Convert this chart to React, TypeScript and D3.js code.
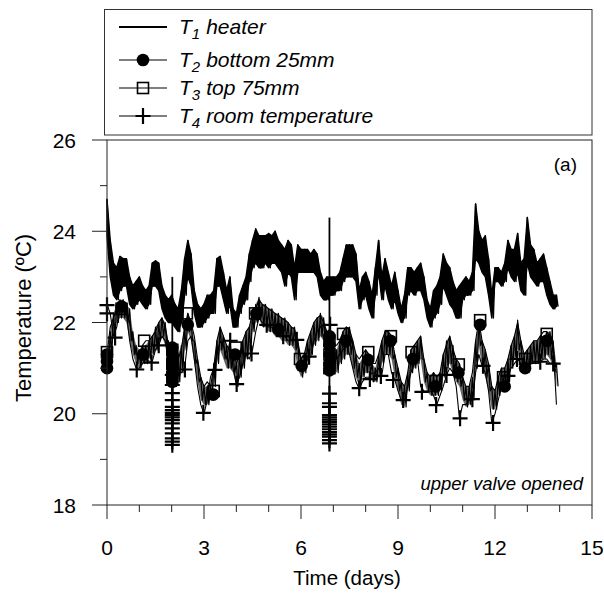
import React from "react";
import * as d3 from "d3";

// Sampling step of the logged series (days)
const STEP = 0.1;

// T1 heater: upper / lower envelope of the readings within each 0.1-day interval
const t1High = [
  24.7, 23.8, 23.3, 23.2, 23.45, 23.4, 23.4, 23.0, 22.8, 22.9,
  23.0, 22.8, 22.7, 22.8, 23.3, 23.35, 23.3, 22.8, 22.6, 22.5,
  22.6, 22.4, 22.3, 22.7, 23.4, 23.8, 23.5, 22.7, 22.4, 22.3,
  22.4, 22.6, 22.6, 22.7, 23.4, 23.45, 23.1, 22.7, 23.0, 22.3,
  22.2, 22.6, 22.8, 23.0, 23.5, 23.8, 24.05, 23.9, 23.9, 23.9,
  23.95, 23.9, 24.0, 23.8, 23.7, 23.6, 23.8, 23.7, 23.2, 23.7,
  23.6, 23.6, 23.6, 23.5, 23.6, 23.5, 23.1, 22.9, 23.0, 23.0,
  23.0, 23.0, 23.1, 23.4, 23.7, 23.7, 23.7, 23.5, 22.7, 23.0,
  23.1, 22.9, 22.6, 23.2, 23.8, 23.0, 23.4, 23.1, 22.8, 23.1,
  22.7, 22.3, 22.6, 23.2, 23.2, 23.1, 23.2, 23.3, 23.0, 22.5,
  22.3, 22.7, 22.8, 23.0, 23.5, 23.3, 23.2, 22.9, 22.7, 22.8,
  22.9, 23.0, 22.9, 23.1, 24.6, 24.0, 23.8, 23.9, 23.4, 22.6,
  23.2, 23.2, 23.1, 23.3, 23.8, 23.6, 23.6, 23.95, 23.3, 23.4,
  24.3, 23.7, 23.6, 23.3, 23.4, 23.5, 23.2, 22.9, 22.6, 22.6,
];
const t1Low = [
  23.9, 23.0, 22.6, 22.5, 22.7, 22.8, 22.8, 22.4, 22.3, 22.4,
  22.5, 22.4, 22.3, 22.4, 22.8, 22.8, 22.7, 22.3, 22.1, 22.0,
  22.0, 21.9, 21.8, 22.0, 22.6, 23.0, 22.8, 22.2, 21.9, 21.9,
  22.0, 22.1, 22.2, 22.2, 22.8, 22.8, 22.5, 22.2, 22.4, 21.9,
  21.9, 22.2, 22.4, 22.5, 22.9, 23.2, 23.3, 23.2, 23.2, 23.3,
  23.2, 23.3, 23.3, 23.2, 23.1, 22.8, 23.1, 23.0, 22.5, 23.1,
  23.1, 23.1, 23.1, 23.1, 23.1, 23.0, 22.6, 22.5, 22.5, 22.6,
  22.6, 22.7, 22.7, 22.9, 23.0, 23.0, 23.0, 22.9, 22.3, 22.5,
  22.6, 22.3, 22.1, 22.6, 23.1, 22.5, 22.8, 22.5, 22.3, 22.5,
  22.2, 22.0, 22.1, 22.6, 22.7, 22.6, 22.7, 22.7, 22.5, 22.1,
  21.9, 22.1, 22.2, 22.4, 22.8, 22.6, 22.4, 22.3, 22.1, 22.1,
  22.5, 22.6, 22.6, 22.7, 23.4, 23.3, 23.1, 23.0, 22.6, 22.1,
  22.9, 22.9, 22.8, 22.9, 23.2, 23.0, 22.9, 23.1, 22.7, 22.6,
  23.3, 23.0, 22.9, 22.8, 22.9, 22.9, 22.6, 22.4, 22.3, 22.35,
];

// T2 bottom 25 mm: envelope per interval
const t2High = [
  21.3, 21.8, 22.2, 22.4, 22.5, 22.5, 22.4, 22.3, 21.8, 21.5,
  21.4, 21.5, 21.5, 21.6, 21.7, 21.9, 22.0, 22.1, 22.0, 21.6,
  21.5, 21.3, 21.3, 21.5, 21.9, 22.2, 22.0, 21.6, 21.2, 20.8,
  20.6, 20.6, 20.6, 21.1, 21.6, 21.9, 21.7, 21.5, 21.4, 21.3,
  21.1, 21.3, 21.6, 21.8, 21.9, 22.2, 22.4, 22.55, 22.4, 22.4,
  22.3, 22.3, 22.2, 22.2, 22.1, 22.1, 22.0, 21.9, 21.9, 21.6,
  21.2, 21.3, 21.6, 21.8, 22.0, 22.1, 22.2, 22.1, 21.8, 21.6,
  21.5, 21.4, 21.6, 21.8, 21.9, 21.9, 21.6, 21.3, 21.1, 21.2,
  21.4, 21.3, 21.1, 21.0, 21.3, 21.6, 21.8, 21.8, 21.7, 21.3,
  21.0, 20.7, 20.6, 20.9, 21.4, 21.5, 21.6, 21.7, 21.2, 20.9,
  20.8, 20.9, 20.8, 20.9, 21.3, 21.6, 21.7, 21.5, 21.2, 21.1,
  20.8, 20.6, 20.6, 20.8, 21.6, 22.0, 21.6, 21.4, 21.1, 20.6,
  20.5, 20.8, 21.0, 21.0, 21.2, 21.5, 21.7, 22.05, 21.6, 21.3,
  21.4, 21.5, 21.6, 21.6, 21.7, 21.7, 21.8, 21.8, 21.6, 21.1,
];
const t2Low = [
  21.0, 21.3, 21.7, 22.0, 22.1, 22.1, 22.0, 21.6, 21.3, 21.1,
  21.0, 21.1, 21.1, 21.2, 21.3, 21.4, 21.6, 21.7, 21.5, 21.1,
  20.7, 20.6, 20.7, 20.9, 21.4, 21.8, 21.6, 21.1, 20.7, 20.3,
  20.2, 20.2, 20.3, 20.6, 21.1, 21.4, 21.2, 21.0, 21.0, 20.9,
  20.6, 20.8, 21.0, 21.2, 21.3, 21.8, 22.0, 22.1, 21.9, 21.9,
  21.8, 21.8, 21.7, 21.7, 21.6, 21.6, 21.5, 21.5, 21.4, 21.0,
  20.8, 20.9, 21.1, 21.3, 21.5, 21.6, 21.7, 21.6, 21.3, 21.0,
  21.0, 20.9, 21.1, 21.2, 21.3, 21.3, 21.0, 20.8, 20.6, 20.8,
  20.9, 20.9, 20.7, 20.7, 20.8, 21.1, 21.3, 21.3, 21.2, 20.8,
  20.5, 20.2, 20.15, 20.5, 20.9, 21.0, 21.1, 21.2, 20.7, 20.5,
  20.4, 20.4, 20.4, 20.5, 20.8, 21.0, 21.1, 20.9, 20.7, 20.6,
  20.3, 20.15, 20.2, 20.3, 21.0, 21.5, 21.0, 20.8, 20.5, 20.1,
  20.1, 20.4, 20.5, 20.5, 20.7, 21.0, 21.2, 21.4, 21.0, 20.9,
  20.9, 21.1, 21.1, 21.1, 21.2, 21.2, 21.3, 21.2, 21.0, 20.6,
];

// T3 top 75 mm
const t3Values = [
  21.3, 21.9, 22.1, 22.3, 22.4, 22.4, 22.3, 22.0, 21.6, 21.3,
  21.3, 21.5, 21.6, 21.6, 21.7, 21.8, 22.0, 22.1, 21.9, 21.5,
  21.2, 21.1, 21.2, 21.4, 21.9, 22.2, 22.0, 21.7, 21.2, 20.8,
  20.6, 20.7, 20.6, 21.0, 21.6, 21.9, 21.7, 21.5, 21.4, 21.4,
  21.1, 21.3, 21.6, 21.8, 21.9, 22.2, 22.3, 22.5, 22.4, 22.35,
  22.3, 22.25, 22.2, 22.15, 22.1, 22.05, 22.0, 21.9, 21.85, 21.5,
  21.2, 21.3, 21.6, 21.8, 22.0, 22.1, 22.15, 22.0, 21.8, 21.6,
  21.5, 21.5, 21.6, 21.8, 21.9, 21.85, 21.6, 21.3, 21.2, 21.3,
  21.4, 21.3, 21.1, 21.1, 21.3, 21.6, 21.8, 21.8, 21.7, 21.3,
  21.0, 20.7, 20.6, 20.9, 21.4, 21.5, 21.6, 21.7, 21.2, 20.9,
  20.8, 20.9, 20.8, 20.9, 21.3, 21.5, 21.7, 21.4, 21.2, 21.1,
  20.8, 20.6, 20.6, 20.9, 21.6, 22.05, 21.6, 21.4, 21.1, 20.6,
  20.5, 20.8, 21.0, 21.0, 21.2, 21.5, 21.7, 22.0, 21.6, 21.3,
  21.4, 21.5, 21.6, 21.6, 21.7, 21.8, 21.8, 21.7, 21.5, 20.2,
];

// T4 room temperature
const t4Values = [
  22.4, 22.2, 21.7, 21.9, 22.3, 22.4, 22.2, 21.6, 21.2, 21.0,
  21.0, 21.1, 21.2, 21.15, 21.15, 21.4, 21.5, 21.7, 21.6, 21.2,
  20.9, 20.8, 20.9, 20.9, 21.0, 21.6, 21.7, 21.2, 20.6, 20.2,
  20.0, 20.3, 20.8, 21.0, 21.3, 21.6, 21.5, 21.2, 21.6, 21.0,
  20.65, 20.8, 21.1, 21.3, 21.2, 21.4, 21.8, 22.1, 22.0, 21.95,
  21.9, 21.9, 21.8, 21.8, 21.7, 21.7, 21.6, 21.6, 21.6, 21.6,
  21.2, 21.0, 21.2, 21.25, 21.6, 21.8, 21.9, 21.95, 21.7, 21.9,
  21.2, 21.2, 21.3, 21.4, 21.5, 21.3, 21.0, 20.7, 20.55, 20.7,
  20.8, 20.8, 20.9, 20.9, 21.0, 20.85, 21.3, 21.3, 20.9, 20.75,
  20.5, 20.3, 20.3, 20.6, 20.9, 21.1, 21.2, 20.6, 20.5, 20.5,
  20.5, 20.4, 20.2, 20.4, 20.6, 20.85, 21.0, 20.9, 20.6, 19.9,
  20.2, 20.2, 20.3, 20.32, 20.9, 21.3, 21.05, 20.9, 20.5, 19.8,
  20.0, 20.3, 20.6, 20.85, 20.85, 21.0, 21.1, 21.2, 21.1, 21.0,
  21.0, 21.1, 21.1, 21.1, 21.14, 21.2, 21.2, 21.1, 21.1, 20.9,
];

// Symbol positions (day, value) for each probe
const t2Marks: [number, number][] = [
  [0, 21.3], [0, 21.15], [0, 21.0], [0.45, 22.35], [1.12, 21.3], [2.5, 21.95],
  [3.29, 20.42], [3.96, 21.3], [4.62, 22.2], [5.3, 21.85], [6.02, 21.05],
  [7.39, 21.6], [8.08, 21.18], [8.77, 21.6], [9.46, 21.2], [10.16, 20.6],
  [10.87, 20.9], [11.54, 21.95], [12.3, 20.6], [12.93, 21.0], [13.6, 21.6],
];
const t3Marks: [number, number][] = [
  [0, 21.35], [0.45, 22.3], [1.15, 21.6], [2.47, 22.2], [3.3, 20.5], [3.98, 21.45],
  [4.58, 22.2], [5.97, 21.2], [7.3, 21.75], [8.08, 21.35], [8.78, 21.7],
  [9.42, 21.35], [10.17, 20.72], [10.88, 21.08], [11.54, 22.05], [12.25, 20.8],
  [12.93, 21.2], [13.6, 21.75],
];
const t4Marks: [number, number][] = [
  [0, 22.38], [0, 22.2], [0.25, 21.67], [0.92, 20.97], [1.38, 21.12], [1.6, 21.5],
  [2.41, 20.97], [2.98, 20.02], [3.34, 20.96], [3.81, 21.6], [4.01, 20.65],
  [4.47, 21.32], [4.94, 21.95], [5.45, 21.7], [5.87, 21.62], [6.25, 21.25],
  [6.9, 21.95], [7.8, 20.56], [8.13, 20.76], [8.47, 20.83], [8.85, 20.74],
  [9.16, 20.3], [9.74, 20.48], [10.18, 20.19], [10.5, 20.85], [10.92, 19.9],
  [11.3, 20.32], [11.63, 21.05], [11.94, 19.8], [12.4, 20.83], [12.68, 21.2],
  [13.4, 21.14], [13.8, 21.1],
];

// Dense logging bursts (many readings at one time)
const burstDays = [2.02, 6.88];
const burstPeak = [23.0, 24.3];
const t2Burst = [
  [21.45, 21.3, 21.15, 21.0, 20.85, 20.7],
  [21.7, 21.5, 21.3, 21.1, 20.95],
];
const t3Burst = [
  [21.4, 21.1, 20.8],
  [21.6, 21.3, 21.0],
];
const t4Burst = [
  [20.85, 20.63, 20.45, 20.3, 20.15, 20.08, 20.02, 19.97, 19.92, 19.86, 19.79, 19.68, 19.57, 19.46, 19.39, 19.32],
  [20.44, 20.23, 20.15, 19.97, 19.92, 19.87, 19.82, 19.77, 19.72, 19.66, 19.6, 19.55, 19.5, 19.42, 19.35],
];

const xTicks = [0, 3, 6, 9, 12, 15];
const xMinor = d3.range(0, 16);
const yTicks = [18, 20, 22, 24, 26];
const yMinor = [19, 21, 23, 25];

const FONT = "'Liberation Sans', Arial, Helvetica, sans-serif";

const x = d3.scaleLinear().domain([0, 15]).range([107, 592]);
const y = d3.scaleLinear().domain([18, 26]).range([505, 140]);

const line = d3
  .line<[number, number]>()
  .x((d) => x(d[0]))
  .y((d) => y(d[1]));

// Alternate between the high and low reading of each interval
function envelopeTrace(high: number[], low: number[]): [number, number][] {
  const pts: [number, number][] = [];
  high.forEach((h, i) => {
    pts.push([i * STEP, h]);
    pts.push([i * STEP + STEP / 2, low[i]]);
  });
  return pts;
}

// Filled band between the high and low reading of each interval
function envelopeArea(high: number[], low: number[]): string {
  const a = d3
    .area<number>()
    .x((_, i) => x(i * STEP))
    .y1((d) => y(d))
    .y0((_, i) => y(low[i]));
  return a(high) ?? "";
}

function seriesTrace(vals: number[]): [number, number][] {
  return vals.map((v, i) => [i * STEP, v]);
}

const CROSS = "M-7.5,0H7.5M0,-8V8";

function Circle({ cx, cy }: { cx: number; cy: number }) {
  return <circle cx={cx} cy={cy} r={6.3} fill="#000" />;
}
function Square({ cx, cy }: { cx: number; cy: number }) {
  return <rect x={cx - 5.5} y={cy - 5.5} width={11} height={11} fill="none" stroke="#000" strokeWidth={1.6} />;
}
function Cross({ cx, cy }: { cx: number; cy: number }) {
  return <path d={CROSS} transform={`translate(${cx},${cy})`} stroke="#000" strokeWidth={2.2} fill="none" />;
}

const legendRows = [
  { sub: "1", label: "heater", y: 27 },
  { sub: "2", label: "bottom 25mm", y: 60 },
  { sub: "3", label: "top 75mm", y: 88 },
  { sub: "4", label: "room temperature", y: 116 },
];

export default function App() {
  const t1 = envelopeTrace(t1High, t1Low);
  const t2 = envelopeTrace(t2High, t2Low);
  const t3 = seriesTrace(t3Values);
  const t4 = seriesTrace(t4Values);

  return (
    <svg
      width={604}
      height={597}
      style={{ position: "absolute", left: 0, top: 0, background: "#fff" }}
      fontFamily={FONT}
    >
      <rect width={604} height={597} fill="#fff" />

      {/* legend */}
      <rect x={104.5} y={9.5} width={487.5} height={125.5} fill="#fff" stroke="#333" strokeWidth={1} />
      {legendRows.map((r, i) => (
        <g key={i}>
          <line x1={119} x2={167} y1={r.y} y2={r.y} stroke="#000" strokeWidth={i === 0 ? 2 : 1.2} />
          {i === 1 && <Circle cx={143} cy={r.y} />}
          {i === 2 && <Square cx={143} cy={r.y} />}
          {i === 3 && <Cross cx={143} cy={r.y} />}
          <text x={179} y={r.y + 7} fontSize={21} fontStyle="italic" fill="#000">
            T
            <tspan fontSize={15} dy={5}>{r.sub}</tspan>
            <tspan dy={-5} dx={6}>{r.label}</tspan>
          </text>
        </g>
      ))}

      {/* series */}
      <g fill="none" stroke="#000" strokeLinejoin="round">
        <path d={line(t4) ?? ""} strokeWidth={1.1} />
        <path d={line(t3) ?? ""} strokeWidth={1.1} />
        <path d={envelopeArea(t2High, t2Low)} fill="#000" fillOpacity={0.6} stroke="none" />
        <path d={line(t2) ?? ""} strokeWidth={1.2} />
        <path d={envelopeArea(t1High, t1Low)} fill="#000" stroke="#000" strokeWidth={1.4} />
        <path d={line(t1) ?? ""} strokeWidth={1.4} />
        {burstDays.map((d, i) => (
          <line
            key={i}
            x1={x(d)}
            x2={x(d)}
            y1={y(burstPeak[i])}
            y2={y(d3.min(t4Burst[i])!)}
            strokeWidth={1.8}
          />
        ))}
      </g>

      {t4Marks.map(([d, v], i) => <Cross key={`c${i}`} cx={x(d)} cy={y(v)} />)}
      {burstDays.map((d, i) =>
        t4Burst[i].map((v, j) => <Cross key={`cb${i}-${j}`} cx={x(d)} cy={y(v)} />)
      )}
      {t3Marks.map(([d, v], i) => <Square key={`s${i}`} cx={x(d)} cy={y(v)} />)}
      {burstDays.map((d, i) =>
        t3Burst[i].map((v, j) => <Square key={`sb${i}-${j}`} cx={x(d)} cy={y(v)} />)
      )}
      {t2Marks.map(([d, v], i) => <Circle key={`o${i}`} cx={x(d)} cy={y(v)} />)}
      {burstDays.map((d, i) =>
        t2Burst[i].map((v, j) => <Circle key={`ob${i}-${j}`} cx={x(d)} cy={y(v)} />)
      )}

      {/* frame */}
      <rect x={107} y={140} width={485} height={365} fill="none" stroke="#222" strokeWidth={1} />

      {/* y axis */}
      {yTicks.map((t) => (
        <g key={`yt${t}`}>
          <line x1={92} x2={107} y1={y(t)} y2={y(t)} stroke="#222" />
          <text x={76} y={y(t)} dy="0.36em" textAnchor="end" fontSize={21} fill="#000">
            {t}
          </text>
        </g>
      ))}
      {yMinor.map((t) => (
        <line key={`ym${t}`} x1={100} x2={107} y1={y(t)} y2={y(t)} stroke="#222" />
      ))}

      {/* x axis */}
      {xMinor.map((t) => (
        <line key={`xm${t}`} x1={x(t)} x2={x(t)} y1={505} y2={xTicks.includes(t) ? 519 : 512} stroke="#222" />
      ))}
      {xTicks.map((t) => (
        <text key={`xt${t}`} x={x(t)} y={555} textAnchor="middle" fontSize={21} fill="#000">
          {t}
        </text>
      ))}

      <text x={347} y={585} textAnchor="middle" fontSize={20.5} fill="#000">
        Time (days)
      </text>
      <text transform="translate(31,318) rotate(-90)" textAnchor="middle" fontSize={22} fill="#000">
        Temperature (ºC)
      </text>

      <text x={577} y={171} textAnchor="end" fontSize={19} fill="#000">
        (a)
      </text>
      <text x={583} y={490} textAnchor="end" fontSize={18.5} fontStyle="italic" fill="#000">
        upper valve opened
      </text>
    </svg>
  );
}
